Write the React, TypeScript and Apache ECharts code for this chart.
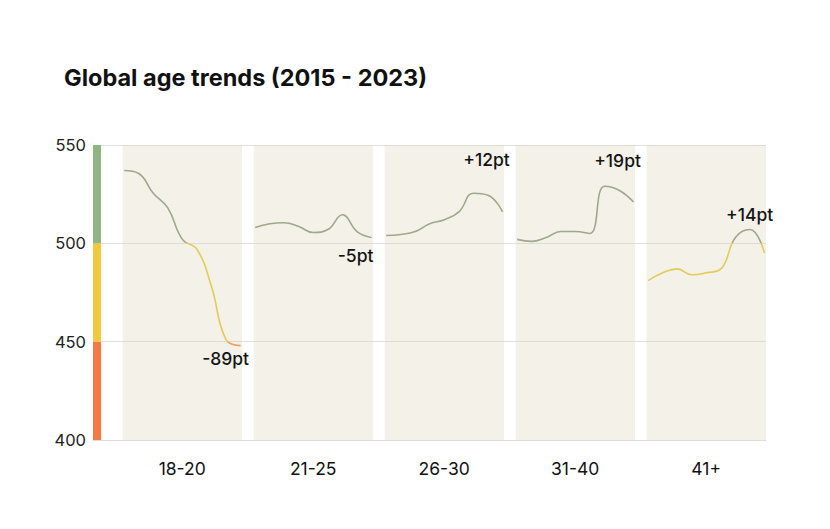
import { useEffect, useRef } from "react";
import * as echarts from "echarts";

// age groups (x categories) and survey years inside each panel
const ageGroups = ["18-20", "21-25", "26-30", "31-40", "41+"];
const years = ["2015", "2016", "2017", "2018", "2019", "2020", "2021", "2022", "2023"];

// scores per year, one array per age group
const scores1820 = [537, 535.5, 525.5, 518, 502, 497, 478, 451, 448];
const scores2125 = [508, 510, 510.5, 508.5, 505.5, 507, 514.5, 506, 503];
const scores2630 = [504, 504.5, 506, 510, 512, 516, 525.5, 524.5, 516];
const scores3140 = [502, 501, 503, 506, 506, 505, 529, 527, 521];
const scores41 = [481, 485, 487, 484, 485, 487, 503, 507, 495];

const deltaLabels = ["-89pt", "-5pt", "+12pt", "+19pt", "+14pt"];

// score bands shown as the coloured strip on the left
const bandLimits = [400, 450, 500, 550];
const yTicks = { min: 400, max: 550, interval: 50 };

const panelScores = [scores1820, scores2125, scores2630, scores3140, scores41];

const PANEL_STEP = 9;
const X_MIN = -2.14;
const X_MAX = 44.1;
const BAND_RIGHT = -1.59;
const bandColors = ["#f47a45", "#f1c93f", "#8fb580"];
const labelOffsets = [
  [-15, 13],
  [-16, 18],
  [-16, -52],
  [-16, -42],
  [-15, -39],
];
const FONT = "Inter, 'Noto Sans', sans-serif";

const App = () => {
  const chartRef = useRef(null);

  useEffect(() => {
    const chart = echarts.init(chartRef.current, null, { renderer: "svg" });

    const lineSeries = panelScores.map((scores, i) => {
      const last = scores.length - 1;
      return {
        name: ageGroups[i],
        type: "line",
        xAxisIndex: 0,
        yAxisIndex: 0,
        smooth: 0.45,
        symbol: "none",
        lineStyle: { width: 1.6 },
        z: 3,
        data: scores.map((v, j) => [i * PANEL_STEP + j, v, years[j]]),
        markPoint: {
          symbol: "circle",
          symbolSize: 0,
          itemStyle: { color: "transparent" },
          data: [{ coord: [i * PANEL_STEP + last, scores[last]], value: deltaLabels[i] }],
          label: {
            show: true,
            position: "inside",
            offset: labelOffsets[i],
            formatter: deltaLabels[i],
            color: "#141414",
            fontSize: 17.5,
            fontWeight: 500,
            fontFamily: FONT,
          },
        },
      };
    });

    const panelAreas = ageGroups.map((_, i) => [
      { xAxis: i * PANEL_STEP - 0.1, yAxis: yTicks.min },
      { xAxis: i * PANEL_STEP + 8.1, yAxis: yTicks.max },
    ]);

    const bandAreas = bandColors.map((color, k) => [
      { xAxis: X_MIN, yAxis: bandLimits[k], itemStyle: { color, opacity: 1 } },
      { xAxis: BAND_RIGHT, yAxis: bandLimits[k + 1] },
    ]);

    const option: any = {
      animation: false,
      title: {
        text: "Global age trends (2015 - 2023)",
        left: 59,
        top: 60,
        textStyle: { fontSize: 23.5, fontWeight: 700, fontFamily: FONT, color: "#111" },
      },
      grid: [
        { left: 93, right: 64, top: 145, bottom: 89 },
        { left: 116.7, right: 58.3, top: 145, bottom: 89 },
      ],
      xAxis: [
        {
          type: "value",
          gridIndex: 0,
          min: X_MIN,
          max: X_MAX,
          axisLabel: { show: false },
          axisTick: { show: false },
          splitLine: { show: false },
          axisLine: { show: true, lineStyle: { color: "#dcdcdc", width: 1.2 } },
        },
        {
          type: "category",
          gridIndex: 1,
          data: ageGroups,
          axisLine: { show: false },
          axisTick: { show: false },
          axisLabel: { fontSize: 17.5, color: "#111", margin: 19, fontFamily: FONT },
        },
      ],
      yAxis: [
        {
          type: "value",
          gridIndex: 0,
          min: yTicks.min,
          max: yTicks.max,
          interval: yTicks.interval,
          axisLabel: { fontSize: 16.5, color: "#222", margin: 7, fontFamily: FONT },
          splitLine: { lineStyle: { color: "#e0e0e0", width: 1.2 } },
          axisLine: { show: false },
          axisTick: { show: false },
        },
        { type: "value", gridIndex: 1, show: false },
      ],
      visualMap: {
        type: "piecewise",
        show: false,
        dimension: 1,
        seriesIndex: [1, 2, 3, 4, 5],
        pieces: [
          { lt: 450, color: "#f0a060" },
          { gte: 450, lt: 500, color: "#e3cb5a" },
          { gte: 500, color: "#9ea98a" },
        ],
      },
      series: [
        {
          type: "line",
          xAxisIndex: 0,
          yAxisIndex: 0,
          data: [],
          z: 1,
          silent: true,
          markArea: {
            silent: true,
            itemStyle: { color: "rgba(216, 210, 178, 0.3)" },
            data: [...panelAreas, ...bandAreas],
          },
        },
        ...lineSeries,
      ],
    };

    chart.setOption(option);

    return () => {
      chart.dispose();
    };
  }, []);

  return (
    <div
      ref={chartRef}
      style={{ position: "absolute", left: 0, top: 0, width: "830px", height: "529px" }}
    />
  );
};

export default App;
